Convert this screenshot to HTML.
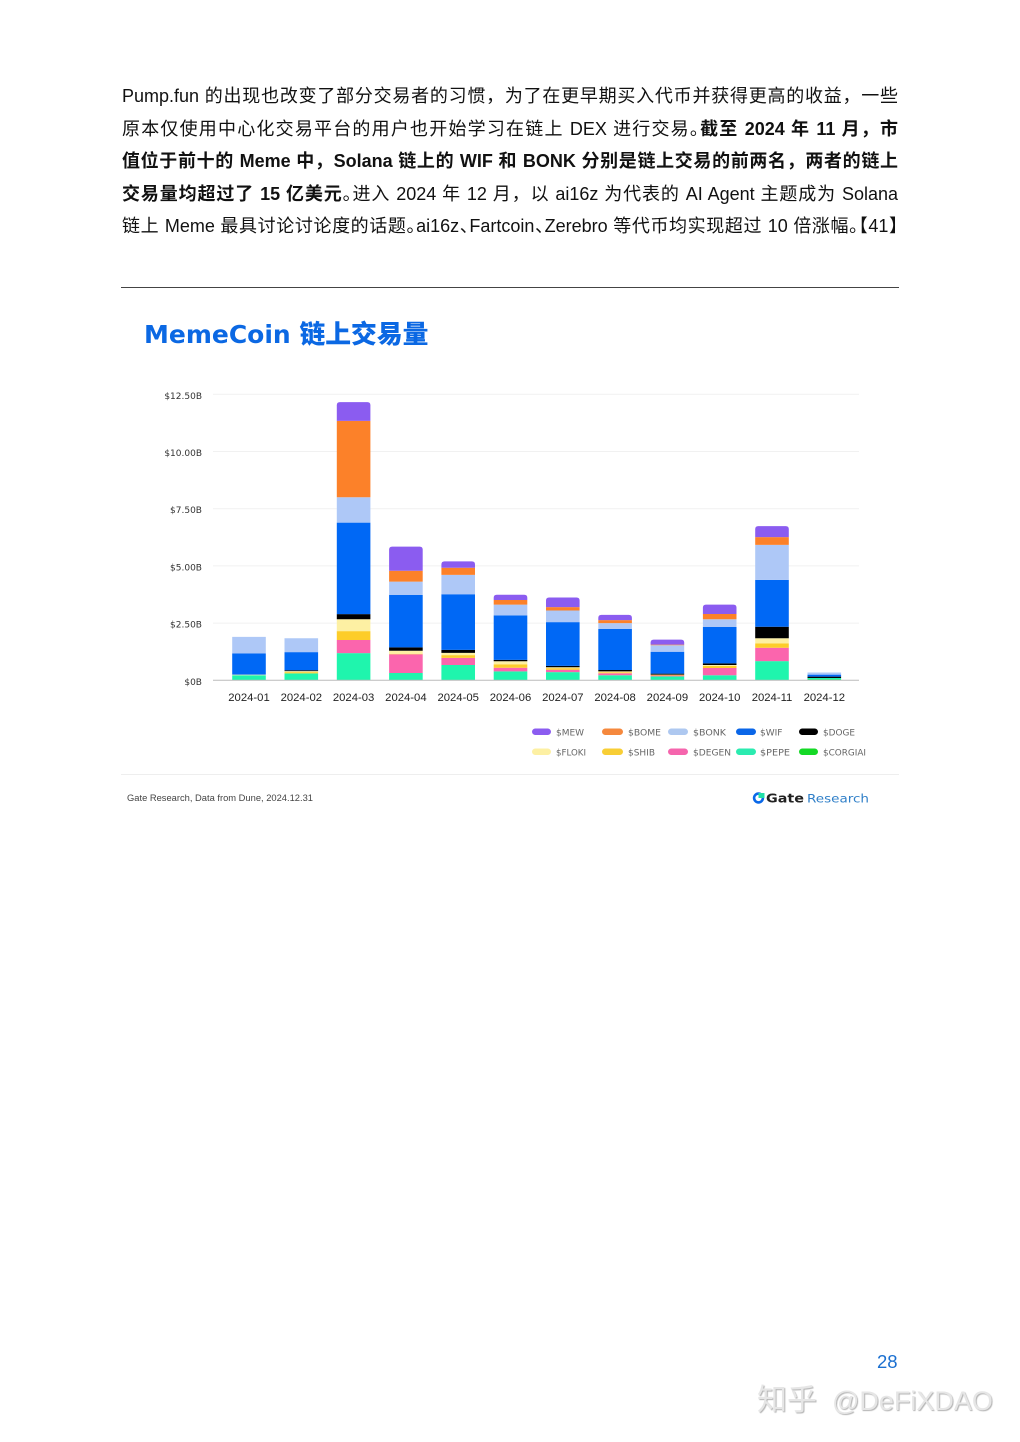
<!DOCTYPE html>
<html lang="zh">
<head>
<meta charset="utf-8">
<title>MemeCoin 链上交易量</title>
<style>
html,body{margin:0;padding:0;background:#fff;}
body{position:relative;width:1020px;height:1442px;overflow:hidden;font-family:"Liberation Sans","Noto Sans CJK SC",sans-serif;color:#111;}
.line{position:absolute;left:122px;width:776px;height:32px;line-height:32px;font-size:18px;white-space:nowrap;text-align:justify;text-align-last:justify;}
.line b{font-weight:700;}
.h{font-feature-settings:"halt";}
.abs{position:absolute;white-space:nowrap;}
#chart{position:absolute;left:0;top:0;}
</style>
</head>
<body>
<div class="line" style="top:80px">Pump.fun 的出现也改变了部分交易者的习惯，为了在更早期买入代币并获得更高的收益，一些</div>
<div class="line" style="top:113px">原本仅使用中心化交易平台的用户也开始学习在链上 DEX 进行交易<span class="h">。</span><b>截至 2024 年 11 月，市</b></div>
<div class="line" style="top:145px"><b>值位于前十的 Meme 中，Solana 链上的 WIF 和 BONK 分别是链上交易的前两名，两者的链上</b></div>
<div class="line" style="top:178px"><b>交易量均超过了 15 亿美元</b><span class="h">。</span>进入 2024 年 12 月，以 ai16z 为代表的 AI Agent 主题成为 Solana</div>
<div class="line" style="top:210px">链上 Meme 最具讨论讨论度的话题<span class="h">。</span>ai16z<span class="h">、</span>Fartcoin<span class="h">、</span>Zerebro 等代币均实现超过 10 倍涨幅<span class="h">。【</span>41<span class="h">】</span></div>

<div class="abs" style="left:121px;top:287px;width:778px;height:1px;background:#444"></div>
<div class="abs" style="left:144px;top:316px;height:38px;line-height:38px;font-size:25px;font-weight:700;color:#0b68e3;font-family:'DejaVu Sans','Noto Sans CJK SC',sans-serif">MemeCoin <span style="font-size:25.8px;font-weight:900">链上交易量</span></div>

<svg id="chart" width="1020" height="1442" viewBox="0 0 1020 1442" xmlns="http://www.w3.org/2000/svg">
  <g id="grid"></g>
  <g id="bars"></g>
  <g id="axis"></g>
  <g font-family="'DejaVu Sans',sans-serif" font-size="9" fill="#666">
    <g><rect x="532" y="728.5" width="19" height="6.5" rx="3.25" fill="#8b5cf0"/><text x="556" y="735.5">$MEW</text></g>
    <g><rect x="602" y="728.5" width="21" height="6.5" rx="3.25" fill="#f5883d"/><text x="628" y="735.5" textLength="33" lengthAdjust="spacingAndGlyphs">$BOME</text></g>
    <g><rect x="668" y="728.5" width="20" height="6.5" rx="3.25" fill="#aec8f0"/><text x="693" y="735.5" textLength="33" lengthAdjust="spacingAndGlyphs">$BONK</text></g>
    <g><rect x="736" y="728.5" width="20" height="6.5" rx="3.25" fill="#0a66e8"/><text x="760" y="735.5">$WIF</text></g>
    <g><rect x="799" y="728.5" width="19" height="6.5" rx="3.25" fill="#000"/><text x="823" y="735.5" textLength="32" lengthAdjust="spacingAndGlyphs">$DOGE</text></g>
    <g><rect x="532" y="748.5" width="19" height="6.5" rx="3.25" fill="#fdf0a3"/><text x="556" y="755.5" textLength="30" lengthAdjust="spacingAndGlyphs">$FLOKI</text></g>
    <g><rect x="602" y="748.5" width="21" height="6.5" rx="3.25" fill="#f8ce35"/><text x="628" y="755.5" textLength="27" lengthAdjust="spacingAndGlyphs">$SHIB</text></g>
    <g><rect x="668" y="748.5" width="20" height="6.5" rx="3.25" fill="#f565ad"/><text x="693" y="755.5" textLength="38" lengthAdjust="spacingAndGlyphs">$DEGEN</text></g>
    <g><rect x="736" y="748.5" width="20" height="6.5" rx="3.25" fill="#2bebb0"/><text x="760" y="755.5" textLength="30" lengthAdjust="spacingAndGlyphs">$PEPE</text></g>
    <g><rect x="799" y="748.5" width="19" height="6.5" rx="3.25" fill="#14d926"/><text x="823" y="755.5" textLength="43" lengthAdjust="spacingAndGlyphs">$CORGIAI</text></g>
  </g>
  <rect x="121" y="774" width="778" height="1" fill="#eeeeee"/>
  <text x="127" y="801" font-family="'Liberation Sans',sans-serif" font-size="9" fill="#444" textLength="186" lengthAdjust="spacingAndGlyphs">Gate Research, Data from Dune, 2024.12.31</text>
  <g>
    <circle cx="758.5" cy="798" r="4.4" fill="none" stroke="#0a68e8" stroke-width="2.6"/>
    <rect x="758.5" y="793" width="6" height="5" fill="#20e0a8"/>
    <text x="766" y="802.5" font-family="'DejaVu Sans',sans-serif" font-size="12" font-weight="700" fill="#222" textLength="38" lengthAdjust="spacingAndGlyphs">Gate</text>
    <text x="807" y="802.5" font-family="'DejaVu Sans',sans-serif" font-size="11.5" fill="#2f7fc8" textLength="62" lengthAdjust="spacingAndGlyphs">Research</text>
  </g>
</svg>

<div class="abs" style="left:877px;top:1350px;line-height:24px;font-size:18.5px;color:#1a6fd0">28</div>
<div class="abs" style="left:757px;top:1381px;line-height:40px;font-size:30px;color:#e6e6e6;text-shadow:1px 1px 1px rgba(0,0,0,.3);font-family:'Liberation Sans','Noto Sans CJK SC',sans-serif">知乎<span style="font-size:27px;margin-left:15px">@DeFiXDAO</span></div>

<script>
const categories = ["2024-01","2024-02","2024-03","2024-04","2024-05","2024-06","2024-07","2024-08","2024-09","2024-10","2024-11","2024-12"];
const yTicks = [0, 2.5, 5, 7.5, 10, 12.5];
const yTickLabels = ["$0B","$2.50B","$5.00B","$7.50B","$10.00B","$12.50B"];
const corgiai = [0,0,0,0,0,0,0,0,0,0,0,0.04];
const pepe    = [0.22,0.30,1.19,0.32,0.67,0.39,0.36,0.22,0.17,0.22,0.84,0.06];
const degen   = [0,0,0.57,0.82,0.31,0.16,0.10,0.09,0.04,0.32,0.58,0];
const shib    = [0,0.06,0.39,0.02,0.12,0.15,0.07,0.04,0.03,0.09,0.19,0];
const floki   = [0.03,0.04,0.52,0.13,0.10,0.13,0.04,0.04,0.01,0.04,0.23,0];
const doge    = [0,0.04,0.22,0.15,0.13,0.06,0.06,0.06,0.04,0.07,0.50,0.06];
const wif     = [0.92,0.79,4.00,2.29,2.43,1.95,1.91,1.79,0.96,1.59,2.05,0.09];
const bonk    = [0.73,0.61,1.11,0.58,0.85,0.47,0.51,0.26,0.28,0.34,1.53,0.09];
const bome    = [0,0,3.34,0.48,0.31,0.20,0.15,0.13,0.03,0.23,0.34,0];
const mew     = [0,0,0.82,1.05,0.28,0.23,0.42,0.23,0.22,0.41,0.48,0];
const seriesNames = ["corgiai","pepe","degen","shib","floki","doge","wif","bonk","bome","mew"];
const seriesValues = [corgiai,pepe,degen,shib,floki,doge,wif,bonk,bome,mew];
const seriesColors = ["#14d926","#1ff5ad","#fb65ad","#fdcd29","#fdf0a3","#000000","#0068f5","#aec8f7","#fc8129","#8b5cf0"];

const NS = "http://www.w3.org/2000/svg";
const plot = {left:213, right:859, baseY:680.3, topY:394.3, maxV:12.5, firstX:249, stepX:52.3, barW:33.6, radius:3};
function yScale(v){ return plot.baseY - (v / plot.maxV) * (plot.baseY - plot.topY); }
function xScale(i){ return plot.firstX + i * plot.stepX; }

const gridG = document.getElementById("grid");
const axisG = document.getElementById("axis");
const barsG = document.getElementById("bars");

yTicks.forEach(function(t, i){
  if (t !== 0) {
    const ln = document.createElementNS(NS, "line");
    
    
    ln.setAttribute("x1", plot.left);
    ln.setAttribute("x2", plot.right);
    ln.setAttribute("y1", yScale(t));
    ln.setAttribute("y2", yScale(t));
    ln.setAttribute("stroke", "#f1f1f1");
    ln.setAttribute("stroke-width", "1");
    gridG.appendChild(ln);
  }
  const lb = document.createElementNS(NS, "text");
  
  
  lb.setAttribute("x", 202);
  lb.setAttribute("y", yScale(t) + 4.5);
  lb.setAttribute("text-anchor", "end");
  lb.setAttribute("font-family", "'DejaVu Sans',sans-serif");
  lb.setAttribute("font-size", "9");
  lb.setAttribute("fill", "#333");
  lb.textContent = yTickLabels[i];
  axisG.appendChild(lb);
});

const axisLine = document.createElementNS(NS, "line");


axisLine.setAttribute("x1", plot.left);
axisLine.setAttribute("x2", plot.right);
axisLine.setAttribute("y1", plot.baseY);
axisLine.setAttribute("y2", plot.baseY);
axisLine.setAttribute("stroke", "#bbbbbb");
axisLine.setAttribute("stroke-width", "1");

categories.forEach(function(cat, i){
  const cx = xScale(i);
  const x0 = cx - plot.barW / 2;
  let cum = 0;
  seriesValues.forEach(function(vals, s){
    const v = vals[i];
    if (v <= 0) return;
    const y1 = yScale(cum);
    const y2 = yScale(cum + v);
    cum += v;
    const seg = document.createElementNS(NS, "path");
    
    
    const r = seriesNames[s] === "mew" ? Math.min(plot.radius, y1 - y2) : 0;
    const x1 = x0 + plot.barW;
    seg.setAttribute("d", "M" + x0 + " " + y1 + "V" + (y2 + r) + "Q" + x0 + " " + y2 + " " + (x0 + r) + " " + y2 + "H" + (x1 - r) + "Q" + x1 + " " + y2 + " " + x1 + " " + (y2 + r) + "V" + y1 + "Z");
    seg.setAttribute("fill", seriesColors[s]);
    barsG.appendChild(seg);
  });
  const lab = document.createElementNS(NS, "text");
  
  
  lab.setAttribute("x", cx);
  lab.setAttribute("y", plot.baseY + 20.5);
  lab.setAttribute("text-anchor", "middle");
  lab.setAttribute("font-family", "'Liberation Sans',sans-serif");
  lab.setAttribute("font-size", "11.3");
  lab.setAttribute("fill", "#222");
  lab.textContent = cat;
  axisG.appendChild(lab);
});
axisG.appendChild(axisLine);
</script>
</body>
</html>
